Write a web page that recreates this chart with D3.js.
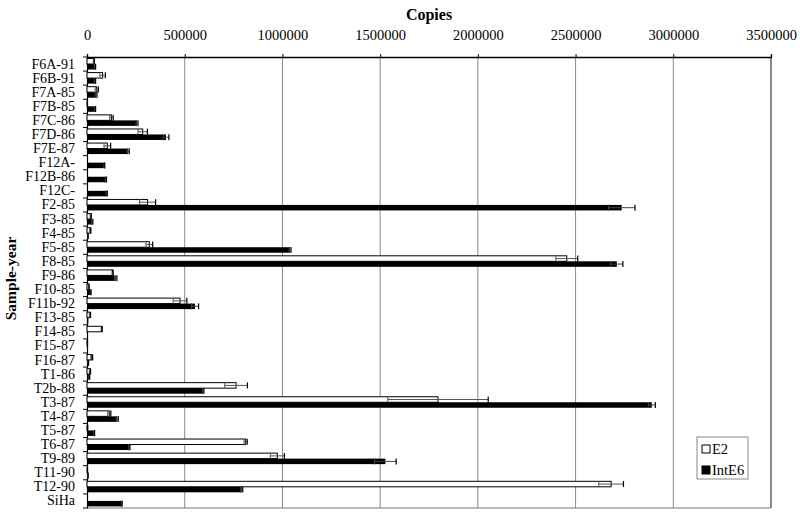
<!DOCTYPE html>
<html>
<head>
<meta charset="utf-8">
<script src="https://cdn.jsdelivr.net/npm/d3@7"></script>
<style>
  body { margin: 0; background: #fff; }
  svg { display: block; }
  text { font-family: "Liberation Serif", "Times New Roman", serif; fill: #000; }
</style>
</head>
<body>
<svg id="chart" width="800" height="517"></svg>
<script>
const categories = ["F6A-91","F6B-91","F7A-85","F7B-85","F7C-86","F7D-86","F7E-87","F12A-","F12B-86","F12C-",
  "F2-85","F3-85","F4-85","F5-85","F8-85","F9-86","F10-85","F11b-92","F13-85","F14-85","F15-87","F16-87",
  "T1-86","T2b-88","T3-87","T4-87","T5-87","T6-87","T9-89","T11-90","T12-90","SiHa"];
const e2Values = [35000, 80000, 50000, 2000, 125000, 285000, 104000, 0, 0, 0,
  310000, 19000, 17000, 319000, 2455000, 131000, 9000, 476000, 15000, 75000, 3000, 24000,
  15000, 763000, 1796000, 114000, 4000, 812000, 974000, 3000, 2682000, 0];
const e2Errors = [3000, 14000, 8000, 0, 9000, 24000, 17000, 0, 0, 0,
  41000, 3000, 3000, 17000, 56000, 3000, 2000, 35000, 3000, 3000, 0, 5000,
  3000, 58000, 257000, 8000, 0, 8000, 36000, 0, 63000, 0];
const intE6Values = [41000, 41000, 46000, 41000, 256000, 404000, 211000, 89000, 97000, 101000,
  2736000, 27000, 5000, 1039000, 2711000, 147000, 19000, 553000, 3000, 0, 2000, 7000,
  12000, 595000, 2890000, 155000, 37000, 217000, 1527000, 5000, 792000, 178000];
const intE6Errors = [3000, 3000, 5000, 3000, 5000, 15000, 5000, 2000, 3000, 3000,
  68000, 3000, 1000, 5000, 31000, 6000, 2000, 18000, 1000, 0, 0, 1000,
  2000, 3000, 18000, 5000, 2000, 3000, 55000, 1000, 5000, 2000];
const xTicks = [0, 500000, 1000000, 1500000, 2000000, 2500000, 3000000, 3500000];
const seriesNames = ["E2", "IntE6"];

const svg = d3.select("#chart");
const m = {left: 87, right: 771, top: 57, bottom: 508};

const x = d3.scaleLinear().domain([0, 3500000]).range([m.left, m.right]);
const y = d3.scaleBand().domain(categories).range([m.top, m.bottom]).paddingInner(0).paddingOuter(0);
const bw = y.bandwidth();
const barH = 5.5;
const offE2 = 1.5, offInt = 7;

// gridlines
svg.append("g").selectAll("line").data(xTicks.slice(1)).join("line")
  .attr("x1", d => x(d)).attr("x2", d => x(d))
  .attr("y1", m.top).attr("y2", m.bottom)
  .attr("stroke", "#8a8a8a").attr("stroke-width", 1);

// frame right & bottom
svg.append("line").attr("x1", m.right).attr("x2", m.right).attr("y1", m.top).attr("y2", m.bottom)
  .attr("stroke", "#666").attr("stroke-width", 1.2);
svg.append("line").attr("x1", m.left).attr("x2", m.right).attr("y1", m.bottom).attr("y2", m.bottom)
  .attr("stroke", "#777").attr("stroke-width", 1.2);

// top axis
const xAxis = d3.axisTop(x).tickValues(xTicks).tickFormat(d3.format("d")).tickSize(3).tickPadding(14);
const gx = svg.append("g").attr("transform", `translate(0,${m.top})`).call(xAxis);
gx.select(".domain").attr("stroke", "#000").attr("stroke-width", 1.3);
gx.selectAll(".tick line").attr("stroke", "#000");
gx.selectAll("text").style("font-family", "Liberation Serif, serif").style("font-size", "14.5px").attr("fill", "#000");

// left axis
const yAxis = d3.axisLeft(y).tickSize(0).tickPadding(12);
const gy = svg.append("g").attr("transform", `translate(${m.left},0)`).call(yAxis);
gy.select(".domain").attr("stroke", "#000").attr("stroke-width", 1.2);
gy.selectAll("text").style("font-family", "Liberation Serif, serif").style("font-size", "14px").attr("fill", "#000");
// boundary ticks
svg.append("g").selectAll("line").data(categories.concat(["__end"])).join("line")
  .attr("x1", m.left - 4).attr("x2", m.left)
  .attr("y1", (d, i) => m.top + i * bw).attr("y2", (d, i) => m.top + i * bw)
  .attr("stroke", "#000").attr("stroke-width", 1);

// bars
const rows = categories.map((c, i) => ({c, e2: e2Values[i], e2e: e2Errors[i], ie: intE6Values[i], iee: intE6Errors[i]}));

svg.append("g").selectAll("rect").data(rows).join("rect")
  .attr("x", x(0)).attr("y", d => y(d.c) + offE2)
  .attr("width", d => x(d.e2) - x(0)).attr("height", barH)
  .attr("fill", "#fff").attr("stroke", "#000").attr("stroke-width", d => d.e2 > 0 ? 1 : 0);

svg.append("g").selectAll("rect").data(rows).join("rect")
  .attr("x", x(0)).attr("y", d => y(d.c) + offInt)
  .attr("width", d => x(d.ie) - x(0)).attr("height", barH)
  .attr("fill", "#000");

// error bars
function errBars(key, errKey, off, color) {
  const g = svg.append("g");
  const data = rows.filter(d => d[errKey] > 0);
  const cy = d => y(d.c) + off + barH / 2;
  g.selectAll("line.h").data(data).join("line")
    .attr("x1", d => x(d[key] - d[errKey])).attr("x2", d => x(d[key] + d[errKey]))
    .attr("y1", cy).attr("y2", cy).attr("stroke", color).attr("stroke-width", 1);
  g.selectAll("line.c1").data(data).join("line")
    .attr("x1", d => x(d[key] - d[errKey])).attr("x2", d => x(d[key] - d[errKey]))
    .attr("y1", d => cy(d) - 3).attr("y2", d => cy(d) + 3).attr("stroke", color).attr("stroke-width", 1);
  g.selectAll("line.c2").data(data).join("line")
    .attr("x1", d => x(d[key] + d[errKey])).attr("x2", d => x(d[key] + d[errKey]))
    .attr("y1", d => cy(d) - 3).attr("y2", d => cy(d) + 3).attr("stroke", "#000").attr("stroke-width", 1.2);
}
errBars("e2", "e2e", offE2, "#555");
errBars("ie", "iee", offInt, "#444");

// titles
svg.append("text").attr("x", (m.left + m.right) / 2).attr("y", 19.5)
  .attr("text-anchor", "middle").style("font-size", "16px").style("font-weight", "bold").text("Copies");
svg.append("text").attr("transform", `translate(16,${(m.top + m.bottom) / 2 - 4}) rotate(-90)`)
  .attr("text-anchor", "middle").style("font-size", "15.5px").style("font-weight", "bold").text("Sample-year");

// legend
const lg = svg.append("g").attr("transform", "translate(697,437)");
lg.append("rect").attr("width", 51).attr("height", 42).attr("fill", "#fff").attr("stroke", "#888").attr("stroke-width", 1);
seriesNames.forEach((n, i) => {
  const yy = 8 + i * 21;
  lg.append("rect").attr("x", 5).attr("y", yy).attr("width", 8).attr("height", 8)
    .attr("fill", i === 0 ? "#fff" : "#000").attr("stroke", "#000").attr("stroke-width", 1);
  lg.append("text").attr("x", 15).attr("y", yy + 8.5).style("font-size", "14.5px").text(n);
});
</script>
</body>
</html>
